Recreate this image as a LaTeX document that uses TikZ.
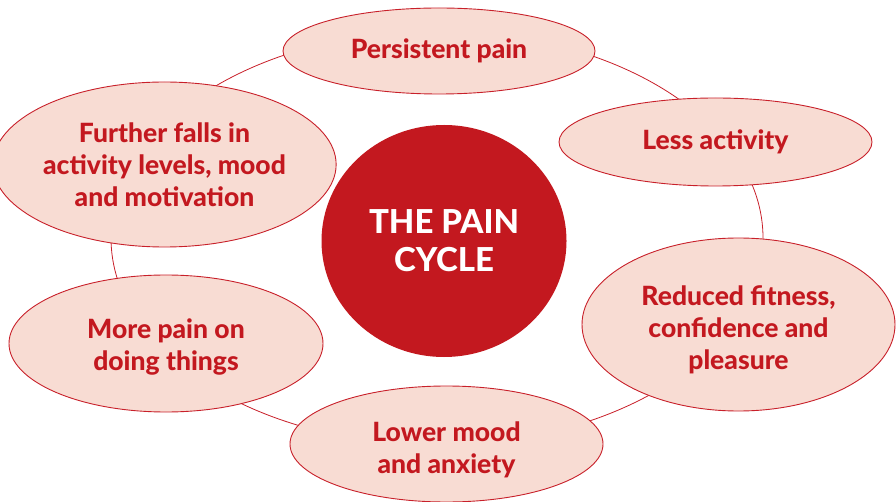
\documentclass[tikz,border=0pt]{standalone}
\usepackage{fontspec}
\setmainfont{Lato}[BoldFont={Lato Heavy}]
\usetikzlibrary{shapes.geometric}
\definecolor{painred}{HTML}{C3181F}
\definecolor{painpink}{HTML}{F8DCD3}
\definecolor{painline}{HTML}{C8202A}
\newcommand{\lowerby}[1]{\rule{0pt}{#1}}
\begin{document}
\begin{tikzpicture}[x=1pt, y=-1pt,
    stage/.style={ellipse, draw=painline, line width=0.9pt, fill=painpink, inner sep=0pt,
        text=painred, align=center, font=\bfseries\fontsize{26.5}{32}\selectfont},
    core/.style={ellipse, fill=painred, inner sep=0pt, minimum width=245pt, minimum height=232pt,
        text=white, align=center, font=\bfseries\fontsize{33}{38}\selectfont}]
    \useasboundingbox (0, 0) rectangle (896, 502);

    % the cycle behind the stages
    \draw[painline, line width=0.8pt] (437, 238) ellipse [x radius=326, y radius=207];

    \node[stage, minimum width=312pt, minimum height=86pt] (persist) at (439, 51) {Persistent pain};
    \node[stage, minimum width=313pt, minimum height=88pt] (less) at (715.5, 142) {Less activity};
    \node[stage, minimum width=313pt, minimum height=173pt] (reduced) at (738.5, 324.5) {\lowerby{30pt}Reduced fitness,\\confidence and\\pleasure};
    \node[stage, minimum width=313pt, minimum height=116pt] (lower) at (446.5, 444) {\lowerby{31pt}Lower mood\\and anxiety};
    \node[stage, minimum width=314pt, minimum height=137pt] (morepain) at (166, 343.5) {\lowerby{26pt}More pain on\\doing things};
    \node[stage, minimum width=313pt, minimum height=165pt] (further) at (164.5, 164.5) {Further falls in\\activity levels, mood\\and motivation};

    \node[core] (cycle) at (444, 241) {THE PAIN\\CYCLE};
\end{tikzpicture}
\end{document}
